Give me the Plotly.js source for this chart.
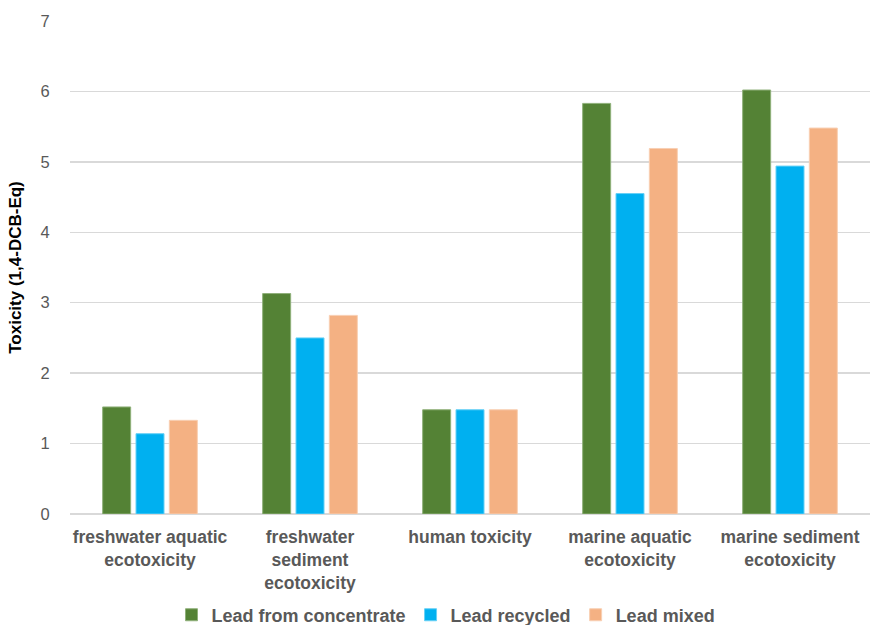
<!DOCTYPE html>
<html>
<head>
<meta charset="utf-8">
<script src="https://cdn.plot.ly/plotly-3.0.1.min.js"></script>
<style>html,body{margin:0;padding:0;background:#fff;}#chart{width:870px;height:625px;}</style>
</head>
<body>
<div id="chart"></div>
<script>
const categories = [
  "freshwater aquatic<br>ecotoxicity",
  "freshwater<br>sediment<br>ecotoxicity",
  "human toxicity",
  "marine aquatic<br>ecotoxicity",
  "marine sediment<br>ecotoxicity"
];
const seriesNames = ["Lead from concentrate", "Lead recycled", "Lead mixed"];
const leadConcentrate = [1.52, 3.13, 1.48, 5.83, 6.02];
const leadRecycled = [1.14, 2.50, 1.48, 4.55, 4.94];
const leadMixed = [1.33, 2.82, 1.48, 5.19, 5.48];
const yTickValues = [0, 1, 2, 3, 4, 5, 6, 7];
const colors = ["#548235", "#00b0f0", "#f4b183"];
const lineColors = ["#8fb07a", "#66d0f6", "#f8cfb3"];

const allValues = [leadConcentrate, leadRecycled, leadMixed];
const traces = allValues.map((vals, i) => ({
  type: "bar",
  name: seriesNames[i],
  x: categories,
  y: vals,
  marker: {color: colors[i], line: {color: lineColors[i], width: 1}},
  hoverinfo: "y"
}));

const layout = {
  width: 870,
  height: 625,
  paper_bgcolor: "#ffffff",
  plot_bgcolor: "#ffffff",
  margin: {l: 70, r: 0, t: 21, b: 111, autoexpand: false},
  barmode: "group",
  bargap: 0.375,
  bargroupgap: 0.16,
  font: {family: "Liberation Sans, Arial, sans-serif", color: "#595959"},
  xaxis: {
    type: "category",
    showgrid: false,
    showline: false,
    zeroline: false,
    ticks: "outside",
    ticklen: 7,
    tickcolor: "rgba(0,0,0,0)",
    tickfont: {size: 17.5, color: "#595959", weight: "bold"},
    automargin: false
  },
  yaxis: {
    range: [0, 7],
    tickvals: yTickValues,
    ticktext: yTickValues.map(String),
    showgrid: true,
    gridcolor: "#d9d9d9",
    gridwidth: 1.3,
    zeroline: true,
    zerolinecolor: "#d9d9d9",
    zerolinewidth: 1.5,
    showline: false,
    ticks: "outside",
    ticklen: 16,
    tickcolor: "rgba(0,0,0,0)",
    tickfont: {size: 16.5, color: "#595959"},
    automargin: false,
    title: {text: "Toxicity (1,4-DCB-Eq)", font: {size: 17, color: "#000000", weight: "bold"}, standoff: 14}
  },
  legend: {
    orientation: "h",
    x: 0.47,
    xanchor: "center",
    y: -0.205,
    yanchor: "middle",
    font: {size: 18, color: "#595959", weight: "bold"},
    itemwidth: 30,
    traceorder: "normal"
  },
  showlegend: true
};

Plotly.newPlot("chart", traces, layout, {displayModeBar: false, staticPlot: true});
</script>
</body>
</html>
